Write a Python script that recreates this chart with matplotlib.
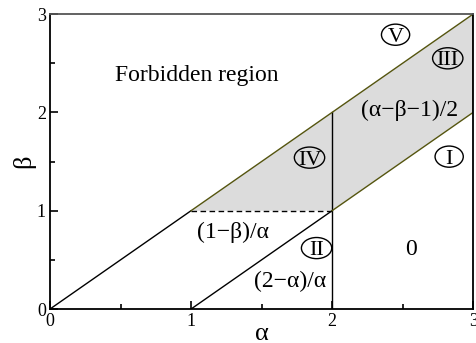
import numpy as np
import matplotlib
matplotlib.use("Agg")
import matplotlib.pyplot as plt
from matplotlib.patches import Ellipse
from matplotlib.ticker import MultipleLocator

# ============================================================
#   DATOS
# ============================================================
# diagonal alpha = beta (0,0)-(1,1), continua como borde de la zona gris
diag_x = [0, 1]
diag_y = [0, 1]
# recta beta = alpha - 1
low_x = [1, 2]
low_y = [0, 1]
# vertical alpha = 2
vert_x = [2, 2]
vert_y = [0, 2]
# linea discontinua beta = 1
dash_x = [1, 2]
dash_y = [1, 1]
# zona gris (region III/IV)
shade_x = [1, 3, 3, 2]
shade_y = [1, 3, 2, 1]
# bordes de la zona gris
edge_up_x = [1, 3, 3]
edge_up_y = [1, 3, 2]
edge_low_x = [2, 3]
edge_low_y = [1, 2]

# etiquetas de regiones: (texto, alpha, beta)
text_labels = [
    ("Forbidden region", 1.04, 2.38),
    ("(\u03b1\u2212\u03b2\u22121)/2", 2.55, 2.02),
    ("(1\u2212\u03b2)/\u03b1", 1.30, 0.78),
    ("0", 2.56, 0.61),
    ("(2\u2212\u03b1)/\u03b1", 1.70, 0.28),
]
# numeros romanos en circulo
roman_labels = [
    ("V", 2.45, 2.79),
    ("III", 2.82, 2.55),
    ("IV", 1.84, 1.54),
    ("I", 2.83, 1.55),
    ("II", 1.89, 0.62),
]

# ============================================================
#  FIGURA
# ============================================================
plt.rcParams['font.family'] = ['Liberation Serif', 'DejaVu Serif']
plt.rcParams['font.size'] = 13

fig = plt.figure(figsize=(4.76, 3.43), dpi=100)
ax = fig.add_axes([0.105, 0.099, 0.889, 0.86])

ax.fill(shade_x, shade_y, color='#dcdcdc', lw=0, zorder=1)

ax.plot(diag_x, diag_y, color='black', lw=1.0, zorder=2)
ax.plot(low_x, low_y, color='black', lw=1.0, zorder=2)
ax.plot(vert_x, vert_y, color='black', lw=1.0, zorder=2)
ax.plot(dash_x, dash_y, color='black', lw=1.0, ls=(0, (4, 2.5)), zorder=2)
ax.plot(edge_up_x, edge_up_y, color='#55550f', lw=1.0, zorder=2)
ax.plot(edge_low_x, edge_low_y, color='#55550f', lw=1.0, zorder=2)

for txt, xx, yy in text_labels:
    ax.text(xx, yy, txt, fontsize=17, ha='center', va='center')

for txt, xx, yy in roman_labels:
    # linea base a media altura de mayusculas para centrar en el circulo
    ax.text(xx, yy - 0.072, txt, fontsize=16, ha='center', va='baseline')
    w = 0.215 if len(txt) > 1 else 0.2
    ax.add_patch(Ellipse((xx, yy), w, 0.215, fc='none', ec='black', lw=1.0, zorder=3))

ax.set_xlim(0, 3)
ax.set_ylim(0, 3)
ax.xaxis.set_major_locator(MultipleLocator(1))
ax.yaxis.set_major_locator(MultipleLocator(1))
ax.xaxis.set_minor_locator(MultipleLocator(0.5))
ax.yaxis.set_minor_locator(MultipleLocator(0.5))
ax.tick_params(which='major', direction='in', length=6, width=1.2, labelsize=13)
ax.tick_params(which='minor', direction='in', length=3.5, width=1.2)
ax.tick_params(axis='x', pad=3)
ax.tick_params(axis='y', pad=3)

for s in ['left', 'bottom', 'right']:
    ax.spines[s].set_linewidth(1.3)
ax.spines['top'].set_linewidth(1.3)
ax.spines['top'].set_color('#555555')

ax.set_xlabel("\u03b1", fontsize=19, labelpad=-5)
ax.set_ylabel("\u03b2", fontsize=19, labelpad=1)

plt.savefig("out.png", dpi=100)
